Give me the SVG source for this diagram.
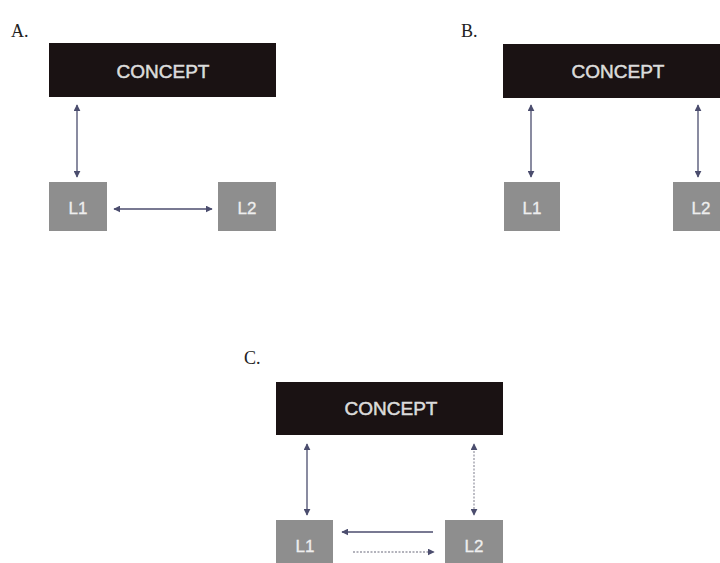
<svg xmlns="http://www.w3.org/2000/svg" width="720" height="563" viewBox="0 0 720 563">
<style>
.lbl{font-family:"Liberation Serif",serif;font-size:18px;fill:#222}
.concept{fill:#1a1213}
.ctext{font-family:"Liberation Sans",Arial,sans-serif;font-size:19px;fill:#dcdcdc;stroke:#dcdcdc;stroke-width:0.5;text-anchor:middle}
.lang{fill:#8e8e8e}
.ltext{font-family:"Liberation Sans",Arial,sans-serif;font-size:17px;fill:#eeeeee;stroke:#eeeeee;stroke-width:0.3;text-anchor:middle}
.ar{stroke:#4b4d6e;stroke-width:1.3;fill:none}
.dot{stroke:#9a9aa6;stroke-dasharray:2 1.5}
</style>
<defs>
<marker id="ah" viewBox="0 0 10 10" refX="9" refY="5" markerWidth="7" markerHeight="7" markerUnits="userSpaceOnUse" orient="auto-start-reverse">
<path d="M0,0 L10,5 L0,10 z" fill="#4b4d6e"/>
</marker>
</defs>
<rect width="720" height="563" fill="#ffffff"/>
<text class="lbl" x="11" y="37">A.</text>
<text class="lbl" x="461" y="37">B.</text>
<text class="lbl" x="244" y="364">C.</text>

<g id="A-concept"><rect class="concept" x="49" y="43" width="227" height="54"/><text class="ctext" x="163" y="78">CONCEPT</text></g>
<g id="A-L1"><rect class="lang" x="49" y="182" width="58" height="49"/><text class="ltext" x="78" y="214">L1</text></g>
<g id="A-L2"><rect class="lang" x="218" y="182" width="58" height="49"/><text class="ltext" x="247" y="214">L2</text></g>

<g id="B-concept"><rect class="concept" x="503" y="44" width="227" height="54"/><text class="ctext" x="618" y="78">CONCEPT</text></g>
<g id="B-L1"><rect class="lang" x="504" y="182" width="56" height="49"/><text class="ltext" x="532" y="214">L1</text></g>
<g id="B-L2"><rect class="lang" x="673" y="182" width="56" height="49"/><text class="ltext" x="701" y="214">L2</text></g>

<g id="C-concept"><rect class="concept" x="276" y="382" width="227" height="53"/><text class="ctext" x="391" y="415">CONCEPT</text></g>
<g id="C-L1"><rect class="lang" x="276" y="520" width="57" height="50"/><text class="ltext" x="305" y="552">L1</text></g>
<g id="C-L2"><rect class="lang" x="445" y="520" width="58" height="50"/><text class="ltext" x="474" y="552">L2</text></g>

<g id="connectors">
<line class="ar" x1="77" y1="105" x2="77" y2="177" marker-start="url(#ah)" marker-end="url(#ah)"/>
<line class="ar" x1="114" y1="209" x2="212" y2="209" marker-start="url(#ah)" marker-end="url(#ah)"/>
<line class="ar" x1="531" y1="105" x2="531" y2="177" marker-start="url(#ah)" marker-end="url(#ah)"/>
<line class="ar" x1="698" y1="105" x2="698" y2="177" marker-start="url(#ah)" marker-end="url(#ah)"/>
<line class="ar" x1="307" y1="444" x2="307" y2="515" marker-start="url(#ah)" marker-end="url(#ah)"/>
<line class="ar dot" x1="474" y1="444" x2="474" y2="515" marker-start="url(#ah)" marker-end="url(#ah)"/>
<line class="ar" x1="433" y1="532" x2="342" y2="532" marker-end="url(#ah)"/>
<line class="ar dot" x1="353" y1="552" x2="434" y2="552" marker-end="url(#ah)"/>
</g>
</svg>
